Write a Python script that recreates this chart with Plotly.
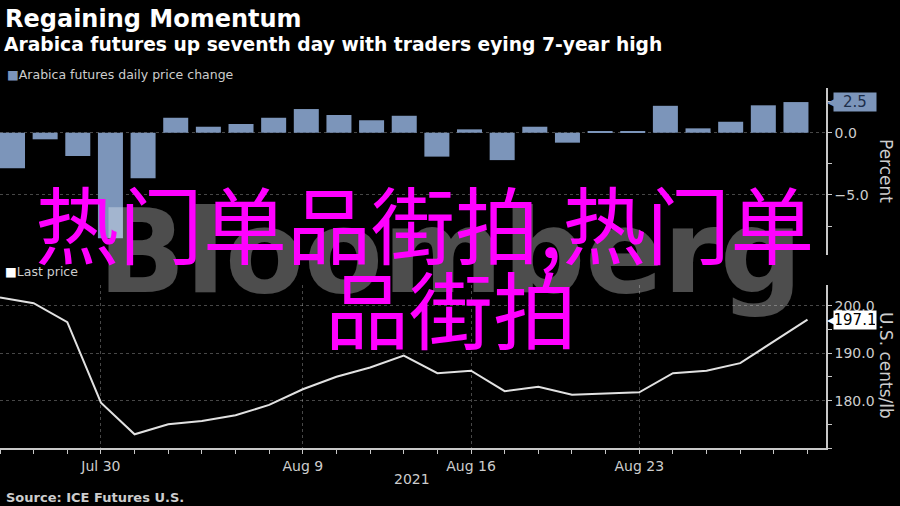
import plotly.graph_objects as go

# trading days shown on the chart
dates = ["2021-07-27", "2021-07-28", "2021-07-29", "2021-07-30",
         "2021-08-02", "2021-08-03", "2021-08-04", "2021-08-05", "2021-08-06",
         "2021-08-09", "2021-08-10", "2021-08-11", "2021-08-12", "2021-08-13",
         "2021-08-16", "2021-08-17", "2021-08-18", "2021-08-19", "2021-08-20",
         "2021-08-23", "2021-08-24", "2021-08-25", "2021-08-26", "2021-08-27",
         "2021-08-30"]

# daily price change, percent
daily_change = [-2.86, -0.53, -1.87, -8.48, -3.66, 1.20, 0.48, 0.70, 1.20,
                1.90, 1.42, 1.00, 1.36, -1.92, 0.27, -2.20, 0.48, -0.80, 0.12,
                0.10, 2.16, 0.35, 0.88, 2.20, 2.46]

# last price, U.S. cents/lb
last_price = [201.75, 200.57, 196.55, 179.56, 172.9, 175.0, 175.7, 176.9, 179.1,
              182.4, 185.05, 187.0, 189.5, 185.8, 186.3, 182.0, 182.9, 181.25, 181.5,
              181.75, 185.8, 186.3, 187.9, 192.45, 197.1]

tick_dates = ["2021-07-30", "2021-08-09", "2021-08-16", "2021-08-23"]
tick_labels = ["Jul 30", "Aug 9", "Aug 16", "Aug 23"]
pct_ticks = [0, -5]
price_ticks = [180, 190, 200]

BAR_COLOR = 'rgb(124, 149, 186)'
GRID = 'rgba(255, 255, 255, 0.28)'
AXIS = 'rgb(200, 200, 200)'
TXT = 'rgb(205, 205, 205)'
FONT = "DejaVu Sans, sans-serif"

# plot area in pixels: y from 88 to 448
def py(y):
    return (448 - y) / 360.0

def px(x):
    return x / 826.0

weekend = [dict(bounds=["sat", "mon"])]

fig = go.Figure()

# bars sit on their own evenly spaced category axis, overlaid on the top panel
fig.add_trace(go.Bar(
    x=dates, y=daily_change,
    xaxis='x3', yaxis='y',
    marker=dict(color=BAR_COLOR, line=dict(width=0)),
    width=0.766,
    name='Arabica futures daily price change',
    showlegend=False
))

fig.add_trace(go.Scatter(
    x=dates, y=last_price,
    xaxis='x2', yaxis='y2',
    mode='lines',
    line=dict(color='rgb(225, 225, 225)', width=2),
    name='Last price',
    showlegend=False
))

line_range = ["2021-07-27 00:00", "2021-08-30 13:12"]

fig.update_layout(
    width=900, height=506,
    margin=dict(l=0, r=74, t=88, b=58),
    paper_bgcolor='black',
    plot_bgcolor='black',
    font=dict(family=FONT, size=14, color=TXT),
    showlegend=False,
    xaxis=dict(
        domain=[0, 1], anchor='y',
        range=line_range, rangebreaks=weekend,
        tickmode='array', tickvals=tick_dates,
        showticklabels=False, ticks='',
        showgrid=True, gridcolor=GRID, griddash='dot', gridwidth=1,
        showline=True, linecolor='rgb(110, 110, 110)', linewidth=2,
        zeroline=False
    ),
    xaxis3=dict(
        overlaying='x', anchor='y', type='category',
        range=[-0.383, 24.92],
        visible=False
    ),
    yaxis=dict(
        domain=[py(255), 1], anchor='x', side='right',
        range=[-9.82, 3.59],
        tickmode='array', tickvals=pct_ticks, tickformat='.1f',
        ticks='outside', ticklen=4, tickcolor=AXIS,
        minor=dict(dtick=2.5, ticks='outside', ticklen=4, tickcolor=AXIS, showgrid=False),
        showgrid=True, gridcolor=GRID, griddash='dot',
        showline=True, linecolor=AXIS, linewidth=1.5,
        zeroline=False,
        tickfont=dict(size=14, color=TXT)
    ),
    xaxis2=dict(
        domain=[0, 1], anchor='y2',
        range=line_range, rangebreaks=weekend,
        tickmode='array', tickvals=tick_dates, ticktext=tick_labels,
        ticks='outside', ticklen=4, tickcolor=AXIS,
        minor=dict(tickmode='array', tickvals=dates, ticks='outside',
                   ticklen=4, tickcolor=AXIS, showgrid=False),
        showgrid=True, gridcolor=GRID, griddash='dot',
        showline=True, linecolor=AXIS, linewidth=1.5,
        zeroline=False,
        tickfont=dict(size=14, color=TXT)
    ),
    yaxis2=dict(
        domain=[0, py(285)], anchor='x2', side='right',
        range=[170.0, 204.4],
        tickmode='array', tickvals=price_ticks, tickformat='.1f',
        ticks='outside', ticklen=4, tickcolor=AXIS,
        minor=dict(dtick=5, ticks='outside', ticklen=4, tickcolor=AXIS, showgrid=False),
        showgrid=True, gridcolor=GRID, griddash='dot',
        showline=True, linecolor=AXIS, linewidth=1.5,
        zeroline=False,
        tickfont=dict(size=14, color=TXT)
    ),
)

annotations = [
    # titles
    dict(text="<b>Regaining Momentum</b>", x=0, y=py(18.5), xshift=3,
         font=dict(size=24, color='white')),
    dict(text="<b>Arabica futures up seventh day with traders eying 7-year high</b>",
         x=0, y=py(45), xshift=2, font=dict(size=18.7, color='white')),
    # legends
    dict(text="<span style='color:%s'>■</span>Arabica futures daily price change" % BAR_COLOR,
         x=0, y=py(75), xshift=5, font=dict(size=12.5, color=TXT)),
    dict(text="<span style='color:white'>■</span>Last price",
         x=0, y=py(271), xshift=3, font=dict(size=12.5, color=TXT)),
    # source / year
    dict(text="<b>Source: ICE Futures U.S.</b>", x=0, y=py(497), xshift=4,
         font=dict(size=13, color=TXT)),
    dict(text="2021", x=px(412), y=py(479), xanchor='center',
         font=dict(size=14, color=TXT)),
]
for a in annotations:
    a.setdefault('xanchor', 'left')
    a.update(xref='paper', yref='paper', yanchor='middle', showarrow=False)
    fig.add_annotation(**a)

# rotated axis titles
fig.add_annotation(text="Percent", x=px(886), y=py(171), xref='paper', yref='paper',
                   xanchor='center', yanchor='middle',
                   textangle=90, showarrow=False, font=dict(size=17, color=TXT))
fig.add_annotation(text="U.S. cents/lb", x=px(886), y=py(365), xref='paper', yref='paper',
                   xanchor='center', yanchor='middle',
                   textangle=90, showarrow=False, font=dict(size=17, color=TXT))

# last value labels
fig.add_annotation(text="%.1f" % daily_change[-1], x=1, xref='paper', y=daily_change[-1], yref='y',
                   xanchor='left', xshift=7, yanchor='middle', showarrow=False,
                   bgcolor=BAR_COLOR, width=40, height=16, borderpad=1, align='center',
                   font=dict(size=15, color='rgb(28, 46, 74)'))
fig.add_annotation(text="◀", x=1, xref='paper', y=daily_change[-1], yref='y',
                   xanchor='left', xshift=-1, yanchor='middle', showarrow=False,
                   font=dict(size=12, color=BAR_COLOR))
fig.add_annotation(text="%.1f" % last_price[-1], x=1, xref='paper', y=last_price[-1], yref='y2',
                   xanchor='left', xshift=7, yanchor='middle', showarrow=False,
                   bgcolor='white', width=40, height=16, borderpad=1, align='center',
                   font=dict(size=15, color='black'))
fig.add_annotation(text="◀", x=1, xref='paper', y=last_price[-1], yref='y2',
                   xanchor='left', xshift=-1, yanchor='middle', showarrow=False,
                   font=dict(size=12, color='white'))

# watermark
fig.add_annotation(text="<b>Bloomberg</b>", x=px(450), y=py(252), xref='paper', yref='paper',
                   xanchor='center', yanchor='middle', showarrow=False,
                   font=dict(size=115, color='rgba(255, 255, 255, 0.3)', family=FONT))

# overlay text
fig.add_annotation(text="热门单品街拍,热门单", x=px(424), y=py(221), xref='paper', yref='paper',
                   xanchor='center', yanchor='middle', showarrow=False,
                   font=dict(size=84, color='#ff00ff', family="Noto Sans CJK SC"))
fig.add_annotation(text="品街拍", x=px(451), y=py(306), xref='paper', yref='paper',
                   xanchor='center', yanchor='middle', showarrow=False,
                   font=dict(size=84, color='#ff00ff', family="Noto Sans CJK SC"))

fig.write_html("out.html", config={'displayModeBar': False},
               post_script="document.body.style.margin='0';")
